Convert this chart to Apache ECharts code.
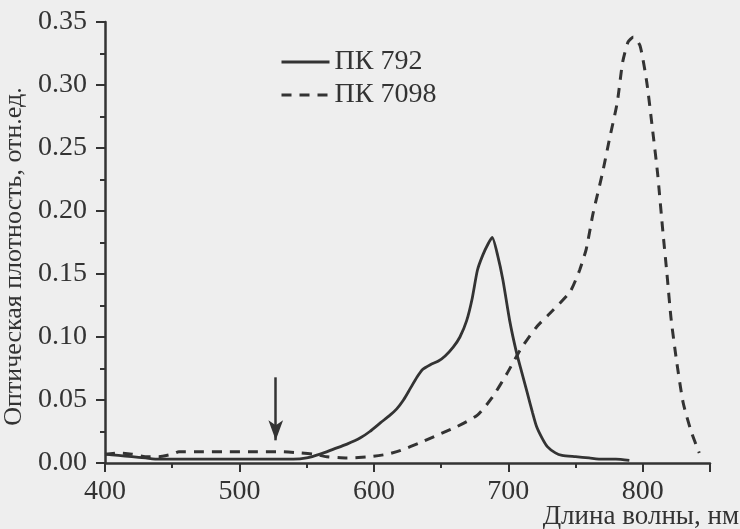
<!DOCTYPE html>
<html>
<head>
<meta charset="utf-8">
<title>ПК 792 / ПК 7098</title>
<script src="https://cdn.jsdelivr.net/npm/echarts@6/dist/echarts.min.js"></script>
<style>
    html, body { margin: 0; padding: 0; background: #eeeeee; }
    #chart { width: 740px; height: 529px; }
</style>
</head>
<body>
<div id="chart"></div>
<script>
// wavelength, nm / optical density, rel. units
const wave792 = [400, 410, 420, 430, 440, 460, 480, 500, 520, 540, 550, 560, 570, 580, 590, 597, 605, 612, 617, 622, 627, 632, 636, 642, 648, 653, 659, 664, 669, 673, 677, 681, 685, 688, 692, 696, 701, 706, 710, 714, 718, 721, 725, 729, 735, 740, 750, 760, 770, 780, 790]
const od792 = [0.007, 0.006, 0.005, 0.004, 0.003, 0.003, 0.003, 0.003, 0.003, 0.003, 0.004, 0.007, 0.011, 0.015, 0.020, 0.025, 0.032, 0.038, 0.043, 0.050, 0.059, 0.068, 0.074, 0.078, 0.081, 0.085, 0.092, 0.100, 0.113, 0.130, 0.153, 0.165, 0.174, 0.179, 0.165, 0.145, 0.113, 0.088, 0.072, 0.056, 0.040, 0.029, 0.020, 0.013, 0.008, 0.006, 0.005, 0.004, 0.003, 0.003, 0.002]

const wave7098 = [400, 410, 420, 430, 440, 450, 455, 470, 490, 510, 530, 545, 555, 565, 580, 597, 610, 620, 634, 647, 662, 677, 688, 699, 709, 721, 733, 746, 753, 758, 763, 770, 775, 781, 785, 789, 793, 798, 803, 807, 811, 815, 818, 821, 825, 830, 836, 842]
const od7098 = [0.007, 0.008, 0.007, 0.005, 0.005, 0.007, 0.009, 0.009, 0.009, 0.009, 0.009, 0.008, 0.007, 0.005, 0.004, 0.005, 0.007, 0.010, 0.016, 0.022, 0.029, 0.038, 0.052, 0.071, 0.090, 0.108, 0.121, 0.136, 0.153, 0.170, 0.198, 0.230, 0.256, 0.286, 0.318, 0.334, 0.338, 0.331, 0.302, 0.267, 0.230, 0.183, 0.150, 0.115, 0.082, 0.048, 0.025, 0.008]

const seriesNames = ['ПК 792', 'ПК 7098']
const xTicks = [400, 500, 600, 700, 800]
const yTicks = [0, 0.05, 0.10, 0.15, 0.20, 0.25, 0.30, 0.35]
const xTitle = 'Длина волны, нм'
// arrow marker near 527 nm
const arrowX = 527
const arrowFrom = 0.068
const arrowTo = 0.018

const ink = '#333333'
const font = "'Liberation Serif', 'Times New Roman', serif"

const pairs = (xs, ys) => xs.map((x, i) => [x, ys[i]])

const chart = echarts.init(document.getElementById('chart'))
chart.setOption({
    backgroundColor: '#eeeeee',
    animation: false,
    textStyle: { fontFamily: font, color: ink },
    grid: { left: 105, right: 30, top: 22, bottom: 66, containLabel: false, outerBoundsMode: 'none' },
    // x axis title sits at the bottom-right corner, below the axis end
    graphic: [{
        type: 'text',
        right: 1,
        top: 503,
        style: { text: xTitle, fontFamily: font, fontSize: 27, fill: ink }
    }],
    legend: {
        orient: 'vertical',
        left: 275,
        top: 43,
        itemWidth: 48,
        itemHeight: 20,
        itemGap: 5,
        itemStyle: { opacity: 0 },
        lineStyle: { width: 3 },
        textStyle: { fontFamily: font, fontSize: 28, color: ink },
        data: seriesNames
    },
    xAxis: {
        type: 'value',
        min: xTicks[0],
        max: 850,
        interval: 100,
        axisLine: { show: true, lineStyle: { color: ink, width: 2.5 } },
        axisTick: { show: true, length: 9, lineStyle: { color: ink, width: 2 } },
        minorTick: { show: true, splitNumber: 2, length: 5, lineStyle: { color: ink, width: 2 } },
        axisLabel: {
            margin: 15, fontSize: 28, fontFamily: font, color: ink,
            formatter: v => (xTicks.indexOf(v) >= 0 ? String(v) : '')
        },
        splitLine: { show: false }
    },
    yAxis: {
        type: 'value',
        min: 0,
        max: yTicks[yTicks.length - 1],
        interval: 0.05,
        name: 'Оптическая плотность, отн.ед.',
        nameLocation: 'middle',
        nameGap: 66,
        nameTextStyle: { fontFamily: font, fontSize: 26, color: ink, padding: [0, 28, 0, 0] },
        axisLine: { show: true, lineStyle: { color: ink, width: 2.5 } },
        axisTick: { show: true, length: 9, lineStyle: { color: ink, width: 2 } },
        minorTick: { show: true, splitNumber: 2, length: 5, lineStyle: { color: ink, width: 2 } },
        axisLabel: {
            margin: 18, fontSize: 28, fontFamily: font, color: ink,
            formatter: v => v.toFixed(2)
        },
        splitLine: { show: false }
    },
    series: [{
        name: seriesNames[0],
        type: 'line',
        data: pairs(wave792, od792),
        showSymbol: false,
        symbol: 'none',
        smooth: 0.2,
        lineStyle: { color: ink, width: 2.8, type: 'solid' },
        itemStyle: { color: ink },
        markLine: {
            silent: true,
            symbol: ['none', 'arrow'],
            symbolSize: [11, 20],
            label: { show: false },
            lineStyle: { color: ink, width: 2.5, type: 'solid' },
            data: [[{ coord: [arrowX, arrowFrom] }, { coord: [arrowX, arrowTo] }]]
        }
    }, {
        name: seriesNames[1],
        type: 'line',
        data: pairs(wave7098, od7098),
        showSymbol: false,
        symbol: 'none',
        smooth: 0.2,
        lineStyle: { color: ink, width: 3, type: [10, 8] },
        itemStyle: { color: ink }
    }]
})
</script>
</body>
</html>
